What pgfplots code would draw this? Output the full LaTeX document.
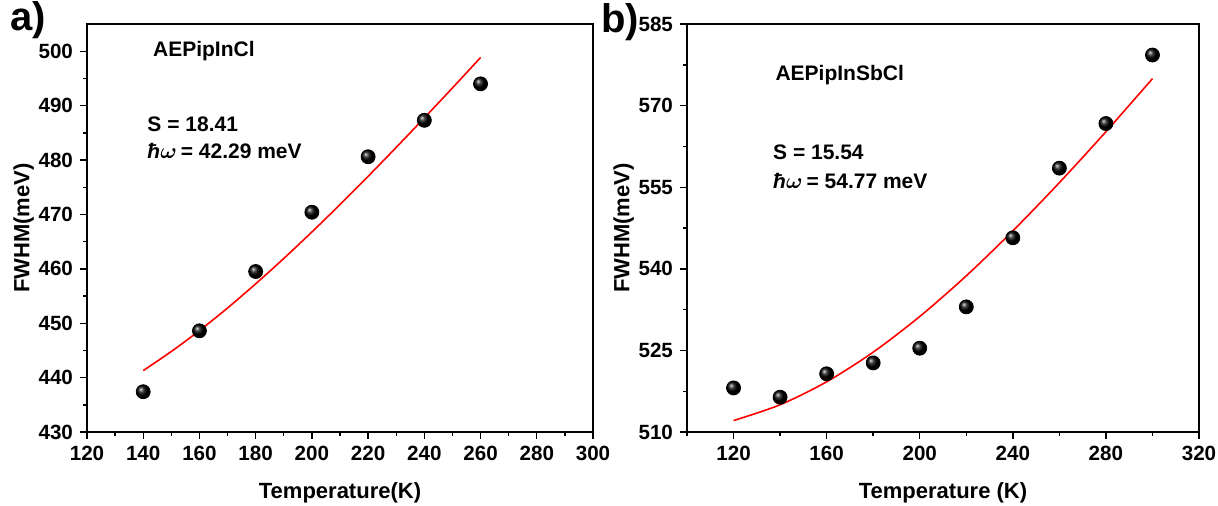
\documentclass[border=0pt]{standalone}
\usepackage{pgfplots}
\pgfplotsset{compat=1.18}
\usepackage{fontspec}
\setmainfont{Liberation Sans}
\usepackage{bm}
\newcommand{\hw}{\textit{ħ}$\bm{\omega}$}
\begin{document}
\begin{tikzpicture}
\path[use as bounding box] (0,0) rectangle (609pt,-253pt);
\pgfplotsset{common/.style={scale only axis, height=204pt,
  axis line style={line width=0.8pt}, tick style={black, line width=0.7pt},
  major tick length=3.5pt, minor tick length=2pt, tick align=outside, tick pos=left,
  /pgf/number format/assume math mode=true,
  ticklabel style={font=\bfseries\fontsize{10.3}{12}\selectfont},
  label style={font=\bfseries\fontsize{11}{13}\selectfont},
  ylabel style={yshift=-4.5pt},
  xlabel style={yshift=-4pt},
  anchor=south west, clip=false}}
% panel a
\begin{axis}[common, at={(43.5pt,-216pt)}, width=253pt,
  xmin=120, xmax=300, ymin=430, ymax=505,
  xtick={120,140,...,300}, minor x tick num=1,
  ytick={430,440,...,500}, minor y tick num=1,
  xlabel={Temperature(K)}, ylabel={FWHM(meV)}]
\addplot[red, line width=0.8pt, smooth] coordinates {
(140,441.29)(150,444.80)(160,448.64)(170,452.80)(180,457.24)(190,461.90)(200,466.77)
(210,471.81)(220,477.00)(230,482.32)(240,487.75)(250,493.25)(260,498.84)};
\addplot[only marks, mark=ball, ball color=black, mark size=3.5pt] coordinates {
(140,437.4)(160,448.6)(180,459.5)(200,470.4)(220,480.6)(240,487.3)(260,494.0)};
\node[anchor=west, font=\bfseries\fontsize{10.5}{12}\selectfont] at (axis cs:141,500) {AEPipInCl};
\node[anchor=west, font=\bfseries\fontsize{10.5}{12}\selectfont] at (axis cs:139,486.6) {S = 18.41};
\node[anchor=west, font=\bfseries\fontsize{10.5}{12}\selectfont] at (axis cs:139,481.6) {\hw\hspace{2pt}= 42.29 meV};
\end{axis}
% panel b
\begin{axis}[common, at={(343.5pt,-216pt)}, width=256pt,
  xmin=100, xmax=320, ymin=510, ymax=585,
  xtick={120,160,...,320}, minor xtick={100,140,...,300},
  ytick={510,525,...,585}, minor ytick={517.5,532.5,...,577.5},
  xlabel={Temperature (K)}, ylabel={FWHM(meV)}]
\addplot[red, line width=0.8pt, smooth] coordinates {
(120,512.10)(140,515.01)(160,519.23)(180,524.68)(200,531.23)(220,538.71)
(240,546.97)(260,555.84)(280,565.20)(300,574.96)};
\addplot[only marks, mark=ball, ball color=black, mark size=3.5pt] coordinates {
(120,518.1)(140,516.4)(160,520.7)(180,522.7)(200,525.4)(220,533.0)(240,545.7)(260,558.5)(280,566.7)(300,579.3)};
\node[anchor=west, font=\bfseries\fontsize{10.5}{12}\selectfont] at (axis cs:135,575.6) {AEPipInSbCl};
\node[anchor=west, font=\bfseries\fontsize{10.5}{12}\selectfont] at (axis cs:134,561.5) {S = 15.54};
\node[anchor=west, font=\bfseries\fontsize{10.5}{12}\selectfont] at (axis cs:134,556.2) {\hw\hspace{2pt}= 54.77 meV};
\end{axis}
\node[font=\bfseries\fontsize{20}{22}\selectfont] at (14pt,-10pt) {a)};
\node[font=\bfseries\fontsize{20}{22}\selectfont] at (310pt,-11pt) {b)};
\end{tikzpicture}
\end{document}
